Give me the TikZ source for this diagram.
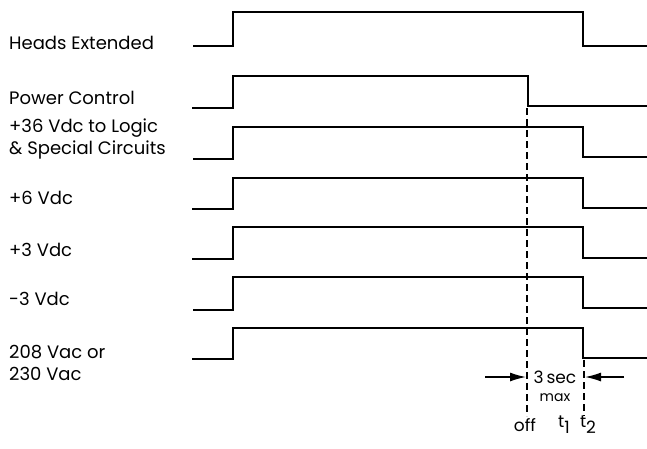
\documentclass[tikz,border=0pt]{standalone}
\usepackage{fontspec}
\setmainfont{Poppins}
\usetikzlibrary{arrows.meta}
\begin{document}
\begin{tikzpicture}[x=1pt,y=-1pt,
  wave/.style={line width=2.4pt, line join=miter},
  lbl/.style={anchor=west, inner sep=0pt, font=\fontsize{18}{21}\selectfont},
  small/.style={inner sep=0pt, font=\fontsize{17}{19}\selectfont},
  guide/.style={line width=1.2pt, dash pattern=on 7pt off 4pt},
  dim/.style={line width=1.4pt, -{Latex[length=16pt,width=9pt]}}]
\useasboundingbox (0,0) rectangle (647,448);
% labels
\node[lbl] (l1) at (9,43) {Heads Extended};
\node[lbl] (l2) at (9,98) {Power Control};
\node[lbl, align=left, font=\fontsize{18}{22}\selectfont] (l3) at (9,139) {+36 Vdc to Logic\\\& Special Circuits};
\node[lbl] (l4) at (9,198) {+6 Vdc};
\node[lbl] (l5) at (9,250) {+3 Vdc};
\node[lbl] (l6) at (9,299) {{-}3 Vdc};
\node[lbl, align=left, font=\fontsize{18}{22}\selectfont] (l7) at (9,363) {208 Vac or\\230 Vac};
% waveforms
\draw[wave] (193,46) -- (233,46) -- (233,12) -- (583,12) -- (583,46) -- (647,46);
\draw[wave] (192,108) -- (233,108) -- (233,76) -- (528,76) -- (528,106) -- (647,106);
\draw[wave] (193,159) -- (233,159) -- (233,127) -- (583,127) -- (583,157) -- (647,157);
\draw[wave] (192,209) -- (233,209) -- (233,178) -- (583,178) -- (583,208) -- (647,208);
\draw[wave] (192,259) -- (233,259) -- (233,227) -- (583,227) -- (583,258) -- (647,258);
\draw[wave] (193,310) -- (233,310) -- (233,277) -- (583,277) -- (583,308) -- (647,308);
\draw[wave] (192,359) -- (233,359) -- (233,328) -- (583,328) -- (583,358) -- (647,358);
% guide lines
\coordinate (g1t) at (527,108);
\coordinate (g1b) at (527,416);
\coordinate (g2t) at (584,360);
\coordinate (g2b) at (584,416);
\draw[guide] (g1t) -- (g1b);
\draw[guide] (g2t) -- (g2b);
% dimension arrows
\coordinate (a1s) at (485,377);
\coordinate (a1e) at (526,377);
\coordinate (a2s) at (624,377);
\coordinate (a2e) at (585,377);
\draw[dim] (a1s) -- (a1e);
\draw[dim] (a2s) -- (a2e);
\node[small] (sec) at (555,377) {3\,sec};
\node[small, font=\fontsize{14}{16}\selectfont] (max) at (555,398) {max};
\node[small] (off) at (525,425) {off};
\node[small] (t1) at (564,425) {t\raisebox{-6pt}{1}};
\node[small] (t2) at (588,425) {t\raisebox{-6pt}{2}};
\end{tikzpicture}
\end{document}
